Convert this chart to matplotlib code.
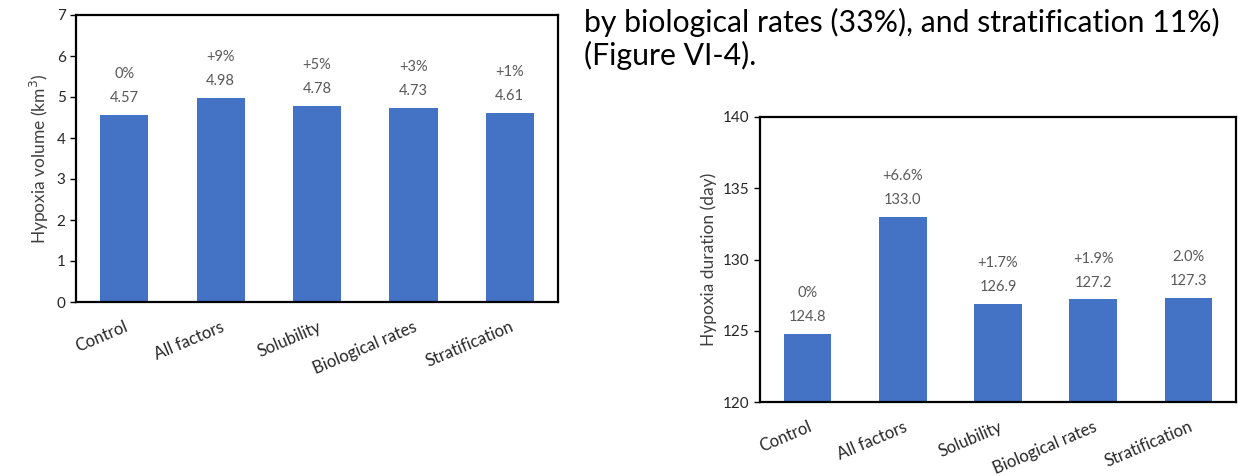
import matplotlib.pyplot as plt

plt.rcParams['font.family'] = ['Lato', 'DejaVu Sans']

categories = ['Control', 'All factors', 'Solubility', 'Biological rates', 'Stratification']

volume = [4.57, 4.98, 4.78, 4.73, 4.61]
volume_pct = ['0%', '+9%', '+5%', '+3%', '+1%']

duration = [124.8, 133.0, 126.9, 127.2, 127.3]
duration_pct = ['0%', '+6.6%', '+1.7%', '+1.9%', '2.0%']

bar_color = '#4472C4'
label_color = '#595959'

W, H = 1238, 476
fig = plt.figure(figsize=(W / 100, H / 100), dpi=100)


def make_axes(left, top, right, bottom):
    return fig.add_axes([left / W, 1 - bottom / H, (right - left) / W, (bottom - top) / H])


def draw(ax, values, pcts, ylim, yticks, ylabel, fmt, offset):
    x = range(len(categories))
    ax.bar(x, [v - ylim[0] for v in values], bottom=ylim[0], width=0.5, color=bar_color)
    ax.set_xlim(-0.5, len(categories) - 0.5)
    ax.set_ylim(*ylim)
    ax.set_yticks(yticks)
    ax.set_xticks(list(x))
    ax.set_xticklabels(categories, rotation=23, ha='right', rotation_mode='anchor',
                       fontsize=12, color='#262626')
    ax.tick_params(axis='x', length=0, pad=12)
    ax.tick_params(axis='y', length=4, width=1, labelsize=11, labelcolor='#262626')
    for s in ax.spines.values():
        s.set_linewidth(1.6)
        s.set_color('black')
    ax.set_ylabel(ylabel, fontsize=12.5, color='#404040')
    for i, (v, p) in enumerate(zip(values, pcts)):
        ax.annotate(p + '\n' + fmt.format(v), (i, v), xytext=(0, offset),
                    textcoords='offset points', ha='center', va='bottom',
                    fontsize=10.5, color=label_color, linespacing=1.9)


ax1 = make_axes(76, 15, 558, 302)
draw(ax1, volume, volume_pct, (0, 7), range(0, 8), 'Hypoxia volume (km$^3$)', '{:.2f}', 7)

ax2 = make_axes(760, 117, 1236, 402)
draw(ax2, duration, duration_pct, (120, 140), range(120, 141, 5), 'Hypoxia duration (day)', '{:.1f}', 7)

fig.text(584 / W, 1 - 32 / H, 'by biological rates (33%), and stratification 11%)',
         fontsize=21.7, color='black', ha='left', va='baseline')
fig.text(584 / W, 1 - 65 / H, '(Figure VI-4).',
         fontsize=21.7, color='black', ha='left', va='baseline')

fig.savefig('out.png', dpi=100, facecolor='white')
